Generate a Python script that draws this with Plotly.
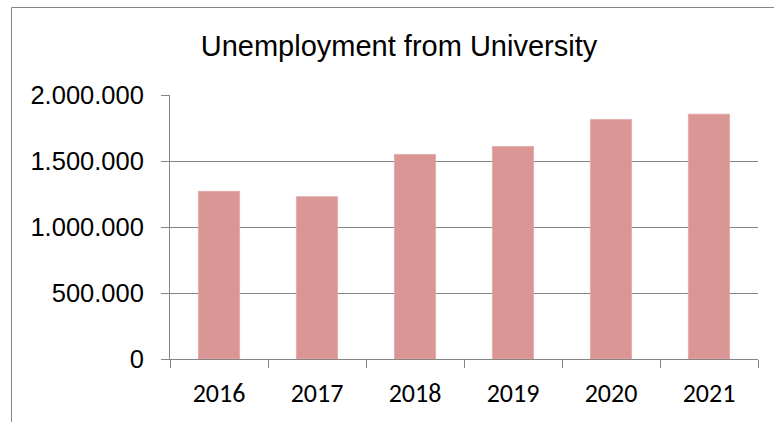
import plotly.graph_objects as go

years = ["2016", "2017", "2018", "2019", "2020", "2021"]
unemployed = [1270000, 1230000, 1550000, 1610000, 1815000, 1855000]
y_ticks = [0, 500000, 1000000, 1500000, 2000000]
title_text = "Unemployment from University"

W, H = 774, 422
L, R, T, B = 170, 16, 95, 63
pw, ph = W - L - R, H - T - B

def px_x(px):
    return (px - L) / pw

def px_y(py):
    return (H - B - py) / ph

fig = go.Figure(go.Bar(
    x=years, y=unemployed,
    marker=dict(color="#D99694", line=dict(color="#E2A9A7", width=0.8)),
))

grey = "#868686"
fig.update_layout(
    width=W, height=H,
    margin=dict(l=L, r=R, t=T, b=B, pad=0),
    paper_bgcolor="white", plot_bgcolor="white",
    separators=",.",
    bargap=0.58,
    showlegend=False,
    title=dict(text=title_text, x=399 / W, xanchor="center",
               y=1 - 46 / H, yanchor="middle",
               font=dict(family="Liberation Sans, Arial", size=29, color="#000000")),
    xaxis=dict(type="category", showgrid=False, showline=True, linecolor=grey, linewidth=1,
               ticks="outside", tickson="boundaries", ticklen=8, tickcolor=grey, tickwidth=1,
               ticklabelstandoff=11,
               tickfont=dict(family="Carlito, Lato", size=26, color="#000000")),
    yaxis=dict(range=[0, 2000000], tickvals=y_ticks, tickformat=",d",
               showgrid=True, gridcolor=grey, gridwidth=1,
               showline=True, linecolor=grey, linewidth=1, zeroline=False,
               ticks="outside", ticklen=8, tickcolor=grey, tickwidth=1,
               ticklabelstandoff=12,
               tickfont=dict(family="Liberation Sans, Arial", size=25.5, color="#000000")),
    shapes=[dict(type="rect", xref="paper", yref="paper",
                 x0=px_x(11.5), x1=px_x(790), y0=px_y(440), y1=px_y(7.5),
                 line=dict(color=grey, width=1), fillcolor="rgba(0,0,0,0)", layer="below")],
)

fig.write_html("out.html")
